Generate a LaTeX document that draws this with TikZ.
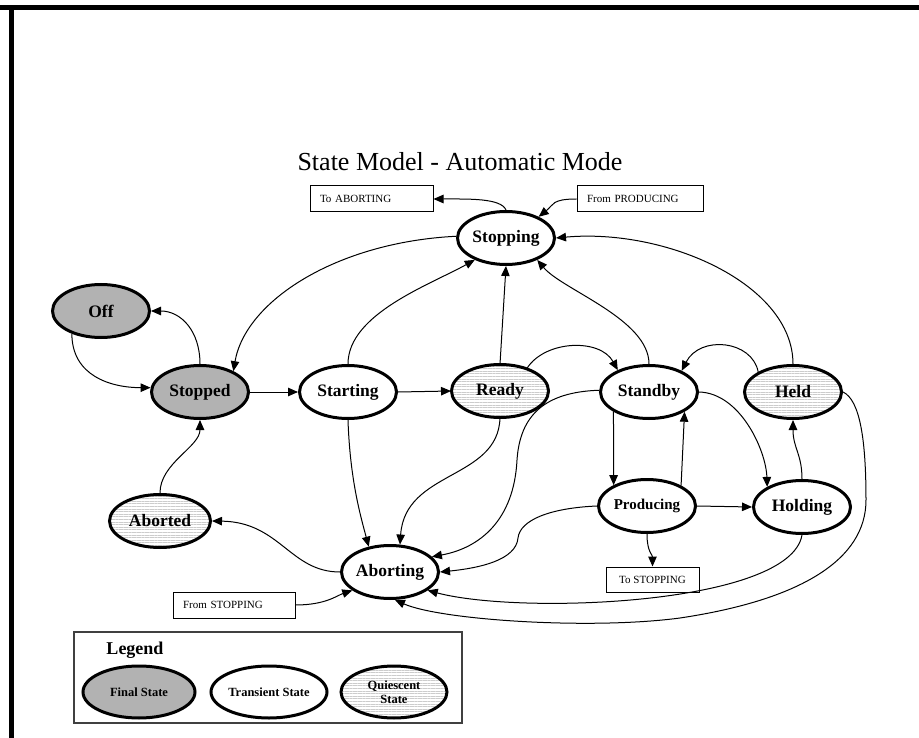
\documentclass[tikz,border=0pt]{standalone}
\usepackage{fontspec}
\setmainfont{Liberation Serif}
\usetikzlibrary{shapes.geometric,arrows.meta,patterns.meta}
\definecolor{finalgray}{RGB}{178,178,178}
\definecolor{stripegray}{RGB}{204,204,204}

\begin{document}
\begin{tikzpicture}[x=1pt,y=-1pt,
  state/.style={ellipse,draw,line width=3pt,minimum width=97pt,minimum height=53pt,
    inner sep=0pt,font=\fontsize{17.5}{20}\selectfont\bfseries},
  final/.style={state,fill=finalgray},
  transient/.style={state,fill=white},
  quiescent/.style={state,pattern={Lines[angle=0,distance=2.6pt,line width=1pt]},pattern color=stripegray},
  legendstate/.style={minimum height=52pt,font=\fontsize{12.5}{14.5}\selectfont\bfseries,align=center},
  box/.style={draw,line width=1pt,rectangle,minimum height=26pt,inner xsep=10pt,inner ysep=0pt,
    align=left,font=\fontsize{11}{13}\selectfont},
  arr/.style={-{Triangle[length=10pt,width=8.5pt]},line width=1pt},
]
\useasboundingbox (0,0) rectangle (919,738);

% page frame (top and left rules)
\draw[line width=5pt] (0,8) -- (919,8);
\draw[line width=4.5pt] (11.5,6) -- (11.5,738);

% title
\node[font=\fontsize{26}{30}\selectfont] (title) at (460,162) {State Model - Automatic Mode};

% states
\node[transient] (stopping) at (506,238) {Stopping};
\node[final] (off) at (101,311) {Off};
\node[final] (stopped) at (200,392) {Stopped};
\node[transient] (starting) at (348,392) {Starting};
\node[quiescent] (ready) at (500,391) {Ready};
\node[transient] (standby) at (649,392) {Standby};
\node[quiescent] (held) at (793,392) {Held};
\node[transient,font=\fontsize{15}{18}\selectfont\bfseries] (producing) at (647,506) {Producing};
\node[transient] (holding) at (802,507) {Holding};
\node[transient] (aborting) at (390,572) {Aborting};
\node[quiescent,minimum width=101pt] (aborted) at (160,521) {Aborted};

% off-page references
\node[box,text width=103pt] (toab) at (371.5,199) {To ABORTING};
\node[box,text width=106pt] (fromprod) at (640,199) {From PRODUCING};
\node[box,text width=102pt] (fromstop) at (234,605) {From STOPPING};
\node[box,minimum width=93pt,minimum height=25pt,align=center] (tostop) at (652.5,579.5) {To STOPPING};

% transitions
\draw[arr] (stopping.north) .. controls +(-5,-12) and +(35,0) .. (toab.east);
\draw[arr] (fromprod.west) .. controls +(-25,0) and +(15,-12) .. (stopping.33);
\draw[arr] (stopping.178) .. controls +(-120,6) and +(12,-70) .. (stopped.32);
\draw[arr] (held.north) .. controls +(0,-80) and +(110,-10) .. (stopping.east);
\draw[arr] (starting.north) .. controls +(0,-50) and +(-45,25) .. (stopping.215);
\draw[arr] (ready.north) -- (stopping.south);
\draw[arr] (standby.north) .. controls +(0,-45) and +(25,30) .. (stopping.-35);

\draw[arr] (off.218) .. controls +(0,42) and +(-40,0) .. (stopped.175);
\draw[arr] (stopped.north) .. controls +(0,-33) and +(30,0) .. (off.east);
\draw[arr] (stopped.east) -- (starting.west);
\draw[arr] (starting.east) -- (ready.west);

\draw[arr] (ready.40) .. controls (545,340) and (600,338) .. (standby.145);
\draw[arr] (held.150) .. controls (752,340) and (700,335) .. (standby.33);

\draw[arr] (standby.178) .. controls (545,392) and (520,415) .. (517,460)
   .. controls (514,520) and (480,548) .. (aborting.20);
\draw[arr] (ready.south) .. controls (498,480) and (405,470) .. (aborting.70);
\draw[arr] (starting.south) .. controls +(2,60) and +(-8,-30) .. (aborting.130);

\draw[arr] (aborting.west) .. controls (290,572) and (280,522) .. (aborted.east);
\draw[arr] (aborted.north) .. controls +(0,-30) and +(0,27) .. (stopped.south);

\draw[arr] (standby.209) -- (producing.148);
\draw[arr] (producing.31) -- (standby.-29);
\draw[arr] (standby.east) .. controls (740,393) and (766,450) .. (holding.150);
\draw[arr] (holding.north) .. controls +(0,-25) and +(0,28) .. (held.south);
\draw[arr] (producing.east) -- (holding.west);
\draw[arr] (producing.south) .. controls +(0,18) and +(0,-12) .. (tostop.north);

\draw[arr] (producing.west) .. controls (550,508) and (520,520) .. (518,538)
   .. controls (516,560) and (480,568) .. (aborting.east);
\draw[arr] (holding.south) .. controls (790,605) and (520,615) .. (aborting.-26);
\draw[arr] (held.east) .. controls (860,400) and (866,440) .. (866,500)
   .. controls (866,560) and (800,600) .. (680,618)
   .. controls (590,630) and (440,620) .. (aborting.-80);
\draw[arr] (fromstop.east) .. controls +(30,0) and +(-15,5) .. (aborting.206);

% legend
\node[draw=black!75,line width=1.1pt,minimum width=388pt,minimum height=91pt,inner sep=0pt] (legendbox) at (268,677.5) {};
\node[font=\fontsize{18}{20}\selectfont\bfseries] (legendtitle) at (135,650) {Legend};
\node[final,legendstate,minimum width=112pt] (lfinal) at (139,692) {Final State};
\node[transient,legendstate,minimum width=116pt] (ltransient) at (269,692) {Transient State};
\node[quiescent,legendstate,minimum width=106pt] (lquiescent) at (394,692) {Quiescent\\State};
\end{tikzpicture}
\end{document}
